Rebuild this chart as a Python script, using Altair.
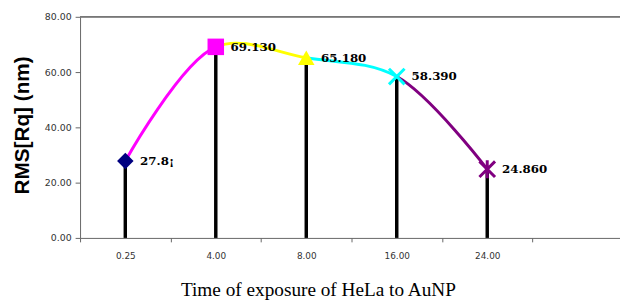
import altair as alt
import pandas as pd

times = ["0.25", "4.00", "8.00", "16.00", "24.00"]
rms = [27.8, 69.13, 65.18, 58.39, 24.86]
labels = ["27.8¡", "69.130", "65.180", "58.390", "24.860"]
marker_colors = ["#000080", "#FF00FF", "#FFFF00", "#00FFFF", "#800080"]
segment_colors = ["#FF00FF", "#FFFF00", "#00FFFF", "#800080"]
y_ticks = [0, 20, 40, 60, 80]

X_PATH = "M-1,-1L1,1M1,-1L-1,1"
STAR_PATH = "M-1,-1L1,1M1,-1L-1,1M0,-1.15L0,1.15"
shapes = ["diamond", "square", "triangle-up", X_PATH, STAR_PATH]
filled_flags = [True, True, True, False, False]

df = pd.DataFrame({"t": times, "v": rms, "lab": labels, "filled": filled_flags})

W, H = 547, 224
domain = times + [" "]

xenc = alt.X(
    "t:N",
    sort=None,
    scale=alt.Scale(type="band", domain=domain, paddingInner=0, paddingOuter=0,
                    range=[0, 550]),
    axis=alt.Axis(
        title="Time of exposure of HeLa to AuNP",
        titleFont="Liberation Serif",
        titleFontSize=19.5,
        titleFontWeight="normal",
        titleColor="black",
        titleX=241,
        titleY=58,
        titleBaseline="alphabetic",
        titleAlign="center",
        labelFont="DejaVu Sans",
        labelFontSize=9,
        labelColor="#333",
        labelAngle=0,
        labelPadding=10,
        tickBand="extent",
        tickSize=4,
        tickColor="#666",
        domainColor="#666",
        grid=False,
    ),
)
yenc = alt.Y(
    "v:Q",
    scale=alt.Scale(domain=[0, 80], nice=False),
    axis=alt.Axis(
        values=y_ticks,
        format=".2f",
        title="RMS[Rq] (nm)",
        titleFont="Liberation Sans",
        titleFontSize=21,
        titleFontWeight="bold",
        titleColor="black",
        titleAngle=270,
        titleX=-58,
        titleY=109.5,
        titleBaseline="middle",
        titleAlign="center",
        labelFont="DejaVu Sans",
        labelFontSize=9.5,
        labelColor="#333",
        labelPadding=4,
        tickSize=5,
        tickColor="#666",
        domainColor="#666",
        grid=False,
    ),
)

base = alt.Chart(df)

stems = base.mark_rule(color="black", strokeWidth=3.5).encode(
    x=xenc, y=yenc, y2=alt.datum(0)
)

top_line = base.mark_rule(color="#777", strokeWidth=1).encode(
    x=alt.value(0), x2=alt.value(W), y=alt.datum(80)
)

stops = []
for i, c in enumerate(segment_colors):
    stops.append(alt.GradientStop(offset=i / 4, color=c))
    stops.append(alt.GradientStop(offset=(i + 1) / 4, color=c))

curve = base.mark_line(
    interpolate="catmull-rom",
    strokeWidth=3,
    stroke=alt.LinearGradient(gradient="linear", stops=stops, x1=0, x2=1, y1=0, y2=0),
).encode(x=xenc, y=yenc)

shape_scale = alt.Scale(domain=times, range=shapes)
color_scale = alt.Scale(domain=times, range=marker_colors)

pts_filled = base.transform_filter("datum.filled").mark_point(
    filled=True, opacity=1, size=280
).encode(
    x=xenc, y=yenc,
    shape=alt.Shape("t:N", scale=shape_scale, legend=None),
    color=alt.Color("t:N", scale=color_scale, legend=None),
)

pts_open = base.transform_filter("!datum.filled").mark_point(
    filled=False, opacity=1, size=250, strokeWidth=3
).encode(
    x=xenc, y=yenc,
    shape=alt.Shape("t:N", scale=shape_scale, legend=None),
    color=alt.Color("t:N", scale=color_scale, legend=None),
)

text = base.mark_text(
    align="left", baseline="middle", dx=15,
    font="DejaVu Serif", fontWeight="bold", fontSize=12, color="black"
).encode(x=xenc, y=yenc, text="lab:N")

chart = (
    alt.layer(stems, top_line, curve, pts_filled, pts_open, text)
    .properties(
        width=W, height=H,
        autosize=alt.AutoSizeParams(type="none"),
        padding={"left": 73, "top": 7, "right": 0, "bottom": 63},
        background="white",
    )
    .configure_view(stroke=None)
)

chart.save("out.html", embed_options={"renderer": "svg", "actions": False})
